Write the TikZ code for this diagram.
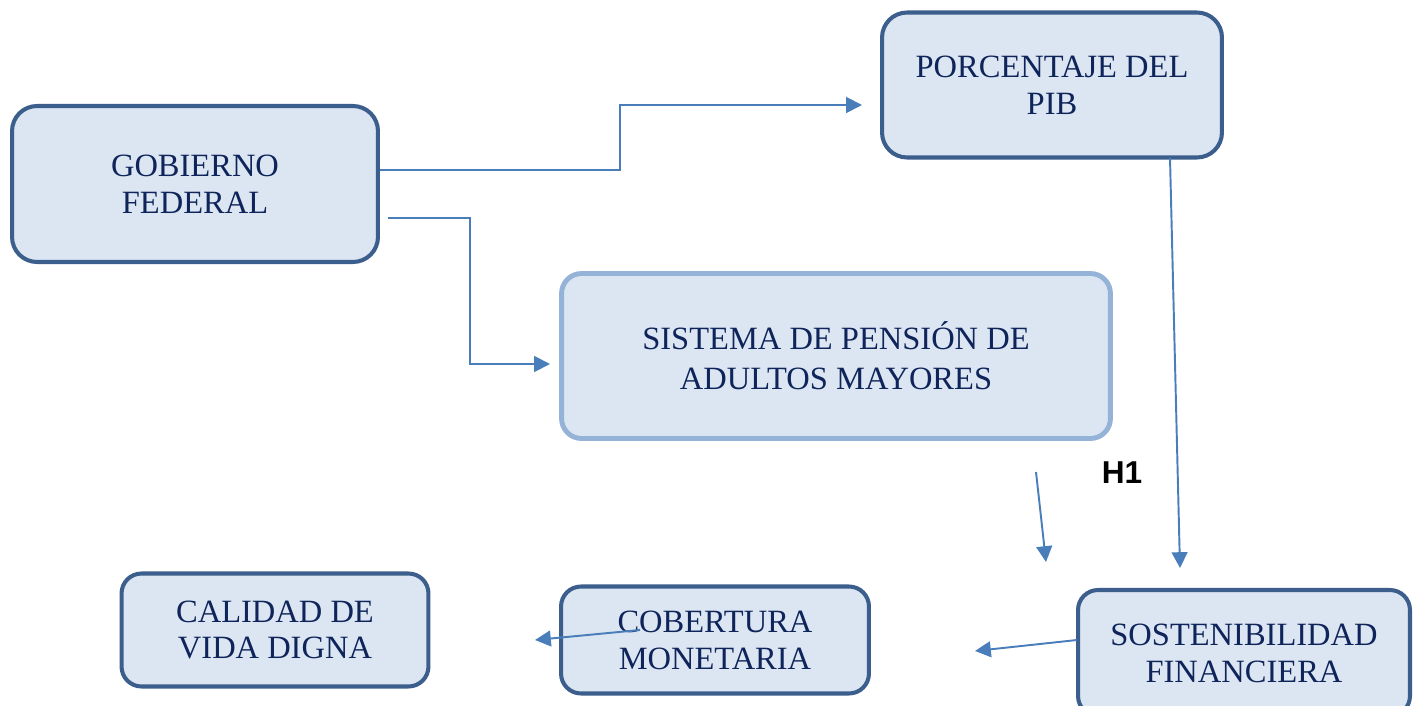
\documentclass[tikz,border=0pt]{standalone}
\usepackage{fontspec}
\setmainfont{Liberation Serif}
\setsansfont{Liberation Sans}
\usetikzlibrary{arrows.meta}
\definecolor{boxfill}{HTML}{DCE6F2}
\definecolor{boxline}{HTML}{3B5E8C}
\definecolor{paleline}{HTML}{95B3D7}
\definecolor{arrowblue}{HTML}{4A7EBB}
\definecolor{navy}{HTML}{0E245A}

\begin{document}
\begin{tikzpicture}[x=0.02cm,y=-0.02cm,
	>={Triangle[length=9pt,width=9pt]},
	box/.style={shape=rectangle,draw=boxline,line width=2.3pt,fill=boxfill,
		rounded corners=0.5cm,align=center,text=navy,
		font=\fontsize{18.5}{21}\selectfont},
	palebox/.style={box,draw=paleline,line width=2.8pt,rounded corners=0.4cm,
		font=\fontsize{18.5}{23}\selectfont},
	link/.style={draw=arrowblue,line width=1.1pt,->}]
	\useasboundingbox (0,0) rectangle (1417,706);
	% boxes
	\node (gob) [box,minimum width=7.32cm,minimum height=3.12cm] at (195,184) {GOBIERNO\\FEDERAL};
	\node (pib) [box,minimum width=6.8cm,minimum height=2.9cm] at (1052,85) {PORCENTAJE DEL\\PIB};
	\node (sis) [palebox,minimum width=10.98cm,minimum height=3.3cm] at (836,356) {SISTEMA DE PENSIÓN DE\\ADULTOS MAYORES};
	\node (cal) [box,minimum width=6.14cm,minimum height=2.26cm,rounded corners=0.4cm] at (275,630) {CALIDAD DE\\VIDA DIGNA};
	\node (cob) [box,minimum width=6.16cm,minimum height=2.14cm,rounded corners=0.4cm] at (715,640) {COBERTURA\\MONETARIA};
	\node (sos) [box,minimum width=6.64cm,minimum height=2.52cm,rounded corners=0.4cm] at (1244,653) {SOSTENIBILIDAD\\FINANCIERA};
	\node (h1) [font=\sffamily\bfseries\fontsize{18}{20}\selectfont] at (1122,473) {H1};

	% loose ends of the arrows
	\coordinate (pibin) at (862,105);
	\coordinate (gobout) at (388,218);
	\coordinate (sisin) at (550,364);
	\coordinate (pibout) at (1170,158);
	\coordinate (sosin) at (1180,568);
	\coordinate (hstart) at (1036,472);
	\coordinate (hend) at (1046,562);
	\coordinate (sosout) at (1077,640);
	\coordinate (cobin) at (975,651);
	\coordinate (cobout) at (640,630);
	\coordinate (calin) at (535,640);

	% arrows
	\draw[link] (gob.east |- 0,170) -- (620,170) |- (pibin);
	\draw[link] (gobout) -- (470,218) |- (sisin);
	\draw[link] (pibout) -- (sosin);
	\draw[link] (hstart) -- (hend);
	\draw[link] (sosout) -- (cobin);
	\draw[link] (cobout) -- (calin);
\end{tikzpicture}
\end{document}
